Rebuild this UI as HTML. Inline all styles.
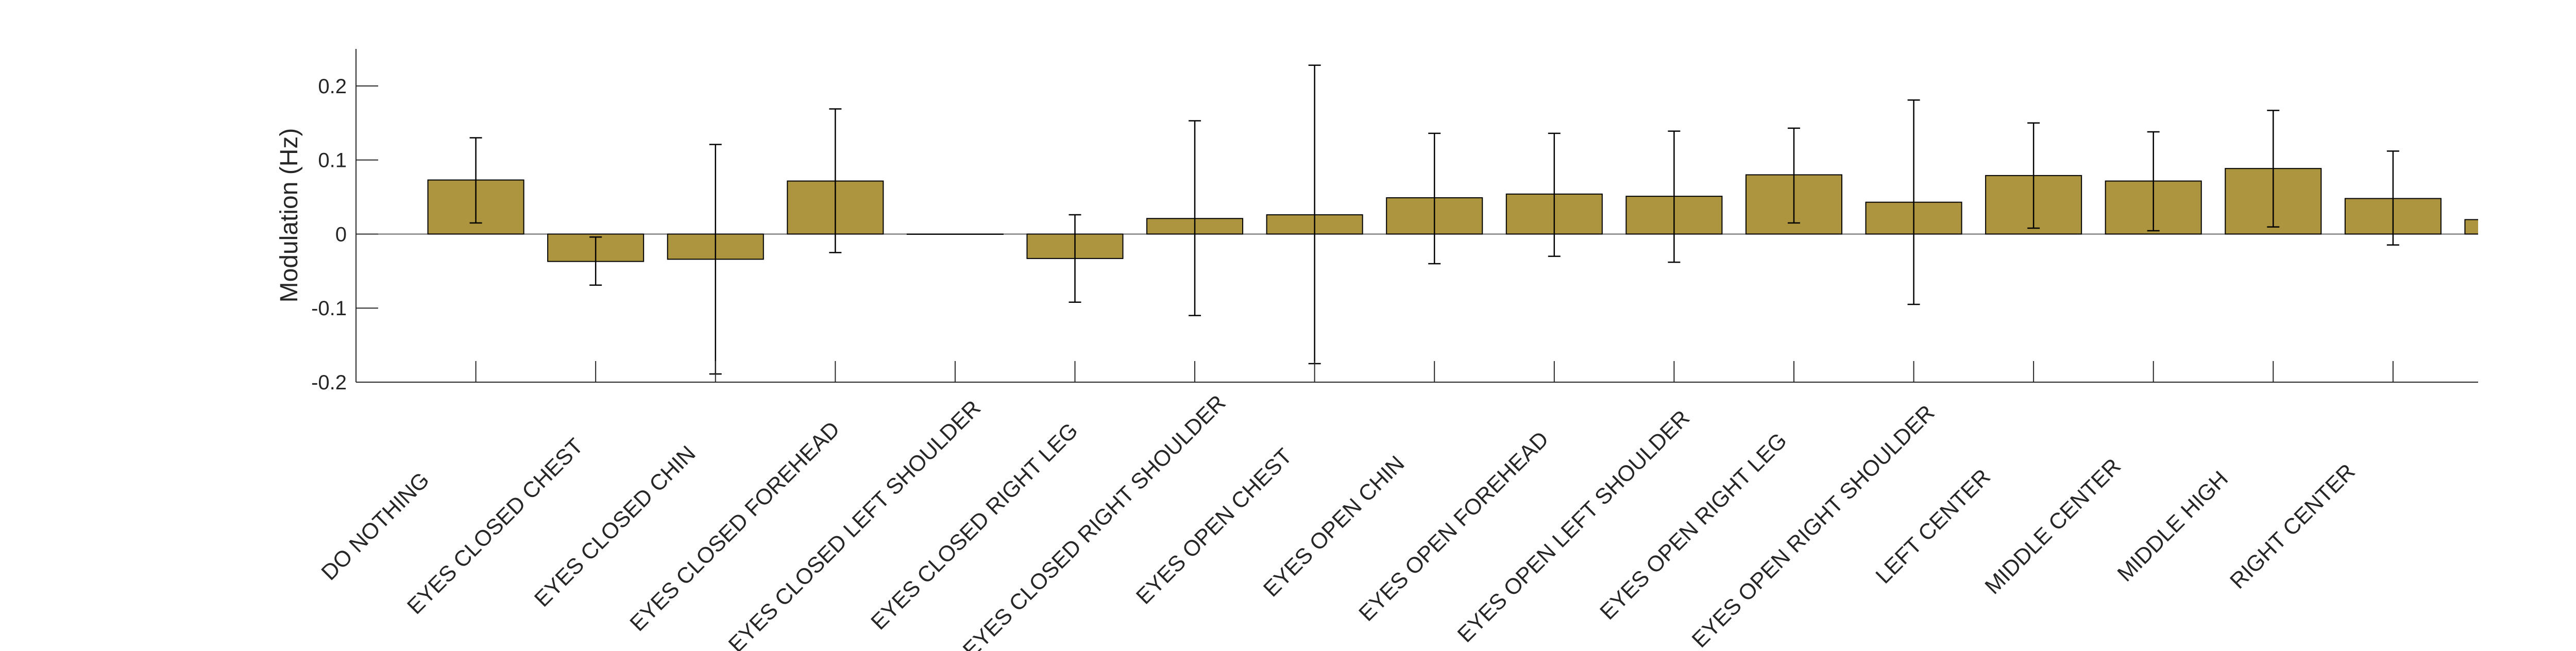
<!DOCTYPE html>
<html><head><meta charset="utf-8"><style>
html,body{margin:0;padding:0;background:#fff;width:5310px;height:1264px;overflow:hidden;}
svg{display:block;}
text{font-family:"Liberation Sans",Arial,sans-serif;fill:#262626;}
</style></head><body>
<svg id="chart" width="5310" height="1264" viewBox="0 0 5310 1264">
<defs><clipPath id="plotclip"><rect x="691" y="0" width="4119" height="1264"/></clipPath></defs>
<g id="plot" clip-path="url(#plotclip)"></g>
<g id="axes"></g>
</svg>
<script>
const categories = ["DO NOTHING","EYES CLOSED CHEST","EYES CLOSED CHIN","EYES CLOSED FOREHEAD","EYES CLOSED LEFT SHOULDER","EYES CLOSED RIGHT LEG","EYES CLOSED RIGHT SHOULDER","EYES OPEN CHEST","EYES OPEN CHIN","EYES OPEN FOREHEAD","EYES OPEN LEFT SHOULDER","EYES OPEN RIGHT LEG","EYES OPEN RIGHT SHOULDER","LEFT CENTER","MIDDLE CENTER","MIDDLE HIGH","RIGHT CENTER",""];
const values = [0.073,-0.037,-0.034,0.0716,0,-0.033,0.021,0.026,0.049,0.054,0.051,0.080,0.043,0.079,0.0716,0.0885,0.048,0.0195];
const errHigh = [0.130,-0.004,0.121,0.169,0,0.026,0.153,0.228,0.136,0.136,0.139,0.143,0.181,0.150,0.138,0.167,0.112,0.0195];
const errLow = [0.015,-0.069,-0.189,-0.025,0,-0.092,-0.110,-0.175,-0.040,-0.030,-0.038,0.015,-0.095,0.008,0.0045,0.0096,-0.0147,0.0195];
const yTicks = [-0.2,-0.1,0,0.1,0.2];
const yTickLabels = ["-0.2","-0.1","0","0.1","0.2"];

const NS="http://www.w3.org/2000/svg";
const X0=691, X1=4810, Y0=95, Y1=742;
const XMIN=0, XMAX=17.71, YMIN=-0.2, YMAX=0.25;
function xs(i){return X0+(i-XMIN)/(XMAX-XMIN)*(X1-X0);}
function ys(v){return Y1-(v-YMIN)/(YMAX-YMIN)*(Y1-Y0);}
function mk(tag,attrs,parent){const e=document.createElementNS(NS,tag);for(const k in attrs)e.setAttribute(k,attrs[k]);parent.appendChild(e);return e;}
const plot=document.getElementById('plot'), axes=document.getElementById('axes');
const bw=0.8, unit=(X1-X0)/(XMAX-XMIN);

let bl=mk('line',{x1:X0,x2:X1,y1:ys(0),y2:ys(0),stroke:'#666','stroke-width':2},plot);



values.forEach((v,k)=>{
  const i=k+1;
  const top=ys(Math.max(v,0)), bot=ys(Math.min(v,0));
  const r=mk('rect',{x:xs(i-bw/2),y:top,width:bw*unit,height:Math.max(bot-top,0.5),fill:'#ad953f',stroke:'#000','stroke-width':2},plot);
  
  
  if(errHigh[k]!==errLow[k]){
    const g=mk('g',{stroke:'#000','stroke-width':2.5},plot);
    
    
    const cx=xs(i);
    mk('line',{x1:cx,x2:cx,y1:ys(errHigh[k]),y2:ys(errLow[k])},g);
    mk('line',{x1:cx-12,x2:cx+12,y1:ys(errHigh[k]),y2:ys(errHigh[k])},g);
    mk('line',{x1:cx-12,x2:cx+12,y1:ys(errLow[k]),y2:ys(errLow[k])},g);
  }
});

let ya=mk('line',{x1:X0,x2:X0,y1:Y0,y2:Y1,stroke:'#262626','stroke-width':2},axes);


let xa=mk('line',{x1:X0,x2:X1,y1:Y1,y2:Y1,stroke:'#262626','stroke-width':2},axes);



yTicks.forEach((t,k)=>{
  const y=ys(t);
  mk('line',{x1:X0,x2:X0+43,y1:y,y2:y,stroke:'#262626','stroke-width':2},axes);
  const tx=mk('text',{x:673,y:y+14,'text-anchor':'end','font-size':40},axes);
  tx.textContent=yTickLabels[k];
  
  
});

categories.forEach((c,k)=>{
  const i=k+1;
  if(!c) return;
  const x=xs(i);
  mk('line',{x1:x,x2:x,y1:Y1,y2:Y1-41,stroke:'#262626','stroke-width':2},axes);
  const px=x-185, py=1032;
  const tx=mk('text',{x:px,y:py,'text-anchor':'middle','font-size':43,transform:`rotate(-45 ${px} ${py})`},axes);
  tx.textContent=c;
  
  
});

const yl=mk('text',{x:577,y:418,'text-anchor':'middle','font-size':48,transform:'rotate(-90 577 418)'},axes);
yl.textContent='Modulation (Hz)';


</script>
</body></html>
